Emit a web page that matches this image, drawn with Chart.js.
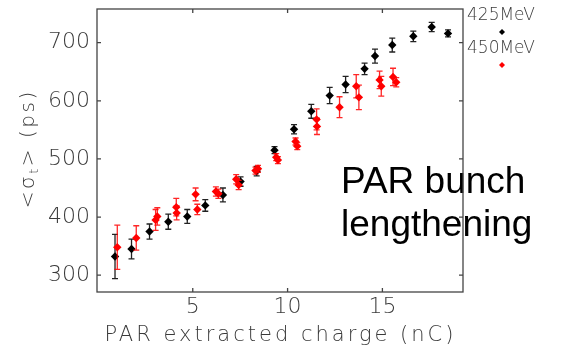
<!DOCTYPE html>
<html>
<head>
<meta charset="utf-8">
<script src="https://cdn.jsdelivr.net/npm/chart.js@4/dist/chart.umd.min.js"></script>
<style>
  html, body { margin: 0; padding: 0; background: #fff; }
  #c { display: block; }
</style>
</head>
<body>
<canvas id="c" width="562" height="352"></canvas>
<script>
// Mean bunch length vs extracted charge, two beam energies
const seriesNames = ['425MeV', '450MeV'];

const charge425 = [0.90, 1.77, 2.72, 3.71, 4.71, 5.66, 6.59, 7.52, 8.37, 9.31, 10.34, 11.25, 12.22, 13.06, 14.06, 14.61, 15.52, 16.63, 17.60, 18.46];
const sigma425  = [332, 345, 375, 392, 401, 420, 438, 461, 479, 515, 551, 582, 609, 628, 655, 677, 696, 711, 727, 716];
const err425    = [38, 17, 13, 13, 12, 10, 12, 8, 8, 6, 8, 12, 14, 14, 10, 12, 12, 9, 8, 6];

const charge450 = [1.02, 2.02, 3.04, 3.13, 4.13, 4.15, 5.15, 5.24, 6.22, 6.35, 7.29, 7.42, 8.31, 8.44, 9.40, 9.49, 10.42, 10.51, 11.53, 11.55, 12.74, 13.62, 13.76, 14.85, 14.94, 15.56, 15.73];
const sigma450  = [348, 364, 395, 401, 417, 407, 439, 413, 444, 440, 465, 455, 480, 483, 503, 498, 530, 522, 568, 556, 589, 625, 606, 636, 625, 641, 632];
const err450    = [38, 21, 18, 15, 15, 12, 11, 9, 8, 8, 8, 8, 6, 6, 6, 6, 6, 6, 18, 14, 18, 20, 21, 15, 17, 15, 8];

const xTicks = [5, 10, 15];
const yTicks = [300, 400, 500, 600, 700];
const xRange = [-0.05, 19.25];
const yRange = [271, 758];

const xTitle = 'PAR extracted charge (nC)';
const noteLines = ['PAR bunch', 'lengthening'];

const thinFont = 'DejaVu Sans';
const axisColor = '#3a3a3a';

function pts(xs, ys) { return xs.map((x, i) => ({ x: x, y: ys[i] })); }

// vertical error bars, drawn just before each dataset's markers
const errorBars = {
  id: 'errorBars',
  beforeDatasetDraw(chart, args) {
    const ds = chart.data.datasets[args.index];
    if (!ds.errors) return;
    const xs = chart.scales.x, ys = chart.scales.y, ctx = chart.ctx;
    ctx.save();
    ctx.strokeStyle = ds.errorColor;
    ctx.lineWidth = 1.3;
    ds.data.forEach((p, i) => {
      const e = ds.errors[i];
      const px = xs.getPixelForValue(p.x);
      const yt = ys.getPixelForValue(p.y + e);
      const yb = ys.getPixelForValue(p.y - e);
      ctx.beginPath();
      ctx.moveTo(px, yt); ctx.lineTo(px, yb);
      ctx.moveTo(px - 3, yt); ctx.lineTo(px + 3, yt);
      ctx.moveTo(px - 3, yb); ctx.lineTo(px + 3, yb);
      ctx.stroke();
    });
    ctx.restore();
  }
};

function spacedText(ctx, text, x, y, spacing) {
  ctx.letterSpacing = spacing + 'px';
  const w = ctx.measureText(text).width - spacing;
  ctx.textAlign = 'left';
  ctx.fillText(text, x - w / 2, y);
  ctx.letterSpacing = '0px';
}

function diamond(ctx, x, y, r, color) {
  ctx.fillStyle = color;
  ctx.beginPath();
  ctx.moveTo(x, y - r); ctx.lineTo(x + r, y); ctx.lineTo(x, y + r); ctx.lineTo(x - r, y);
  ctx.closePath();
  ctx.fill();
}

// frame with inward ticks, axis titles, annotation and key
const decorations = {
  id: 'decorations',
  afterDraw(chart) {
    const ctx = chart.ctx, a = chart.chartArea;
    const xs = chart.scales.x, ys = chart.scales.y;
    ctx.save();

    // annotation
    ctx.fillStyle = '#000';
    ctx.font = '37px "Liberation Sans", Arial, sans-serif';
    ctx.textAlign = 'left';
    ctx.textBaseline = 'alphabetic';
    ctx.fillText(noteLines[0], 341, 193);
    ctx.fillText(noteLines[1], 341, 236);

    // frame
    ctx.strokeStyle = '#444';
    ctx.lineWidth = 1.3;
    ctx.strokeRect(a.left, a.top, a.right - a.left, a.bottom - a.top);
    ctx.beginPath();
    xTicks.forEach(v => {
      const p = xs.getPixelForValue(v);
      ctx.moveTo(p, a.bottom); ctx.lineTo(p, a.bottom - 4);
      ctx.moveTo(p, a.top); ctx.lineTo(p, a.top + 4);
    });
    yTicks.forEach(v => {
      const p = ys.getPixelForValue(v);
      ctx.moveTo(a.left, p); ctx.lineTo(a.left + 4, p);
      ctx.moveTo(a.right, p); ctx.lineTo(a.right - 4, p);
    });
    ctx.stroke();

    // x title
    ctx.fillStyle = axisColor;
    ctx.textBaseline = 'middle';
    ctx.font = '200 21px "' + thinFont + '"';
    spacedText(ctx, xTitle, 279, 336, 3);

    // y title: <σ_t> (ps)
    ctx.translate(29, 150);
    ctx.rotate(-Math.PI / 2);
    const big = '200 20px "' + thinFont + '"', small = '200 13px "' + thinFont + '"';
    const parts = [
      { t: '<σ', f: big, dy: 0 },
      { t: 't', f: small, dy: 6 },
      { t: '> (ps)', f: big, dy: 0 }
    ];
    const sp = 2.5;
    ctx.letterSpacing = sp + 'px';
    let total = 0;
    parts.forEach(p => { ctx.font = p.f; p.w = ctx.measureText(p.t).width; total += p.w; });
    total -= sp;
    let cx = -total / 2;
    ctx.textAlign = 'left';
    parts.forEach(p => { ctx.font = p.f; ctx.fillText(p.t, cx, p.dy); cx += p.w; });
    ctx.letterSpacing = '0px';
    ctx.setTransform(1, 0, 0, 1, 0, 0);

    // key
    ctx.font = '200 17px "' + thinFont + '"';
    ctx.fillStyle = axisColor;
    ctx.textAlign = 'left';
    ctx.textBaseline = 'middle';
    const ds = chart.data.datasets;
    ctx.fillText(ds[0].label, 467, 16);
    diamond(ctx, 502, 32, 3, ds[0].backgroundColor);
    ctx.fillStyle = axisColor;
    ctx.fillText(ds[1].label, 467, 49);
    diamond(ctx, 502, 65, 3, ds[1].backgroundColor);

    ctx.restore();
  }
};

new Chart(document.getElementById('c'), {
  type: 'scatter',
  data: {
    datasets: [
      {
        label: seriesNames[0],
        data: pts(charge425, sigma425),
        errors: err425,
        errorColor: '#222',
        backgroundColor: '#000',
        borderColor: '#000',
        pointStyle: 'rectRot',
        pointRadius: 4.2,
        borderWidth: 0,
        order: 1
      },
      {
        label: seriesNames[1],
        data: pts(charge450, sigma450),
        errors: err450,
        errorColor: 'rgba(255,0,0,0.85)',
        backgroundColor: '#ff0000',
        borderColor: '#ff0000',
        pointStyle: 'rectRot',
        pointRadius: 4.2,
        borderWidth: 0,
        order: 0
      }
    ]
  },
  options: {
    responsive: false,
    animation: false,
    devicePixelRatio: 1,
    layout: { padding: { left: 0, top: 9, right: 99, bottom: 0 } },
    plugins: { legend: { display: false }, tooltip: { enabled: false } },
    scales: {
      x: {
        type: 'linear',
        min: xRange[0], max: xRange[1],
        afterBuildTicks: s => { s.ticks = xTicks.map(v => ({ value: v })); },
        afterFit: s => { s.height = 60; s.paddingLeft = 0; s.paddingRight = 0; },
        grid: { display: false, drawTicks: false },
        border: { display: false },
        ticks: {
          color: axisColor, padding: 2, maxRotation: 0, autoSkip: false,
          font: { family: thinFont, size: 22, weight: 200 }
        }
      },
      y: {
        type: 'linear',
        min: yRange[0], max: yRange[1],
        afterBuildTicks: s => { s.ticks = yTicks.map(v => ({ value: v })); },
        afterFit: s => { s.width = 97; s.paddingTop = 0; s.paddingBottom = 0; },
        grid: { display: false, drawTicks: false },
        border: { display: false },
        ticks: {
          color: axisColor, padding: 7, autoSkip: false,
          font: { family: thinFont, size: 22, weight: 200 }
        }
      }
    }
  },
  plugins: [errorBars, decorations]
});
</script>
</body>
</html>
